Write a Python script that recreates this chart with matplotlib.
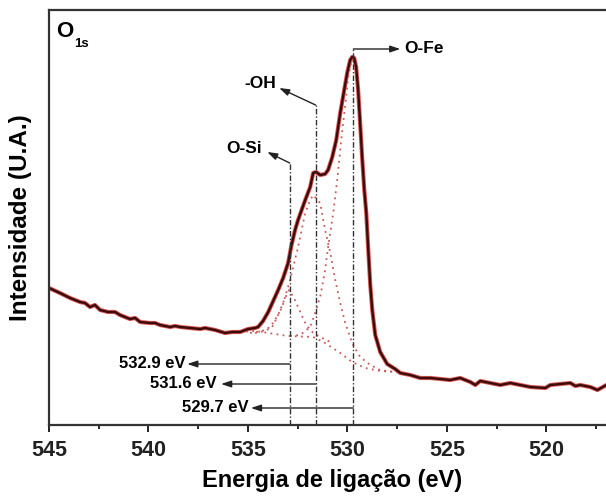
import matplotlib
matplotlib.use("Agg")
import matplotlib.pyplot as plt
from matplotlib.ticker import MultipleLocator

plt.rcParams['font.family'] = ['Liberation Sans', 'DejaVu Sans']
plt.rcParams['font.weight'] = 'bold'

# ---- data ----
energy = [545.00, 544.45, 543.94, 543.44, 543.19, 542.94, 542.69, 542.43, 542.03, 541.68,
          541.43, 540.93, 540.67, 540.42, 539.92, 539.67, 539.42, 538.91, 538.66, 538.41,
          537.91, 537.40, 537.15, 536.65, 536.15, 535.79, 535.39, 534.99, 534.64, 534.49,
          534.24, 533.98, 533.73, 533.48, 533.23, 532.98, 532.83, 532.63, 532.48, 532.12,
          531.87, 531.72, 531.57, 531.37, 531.12, 530.97, 530.76, 530.56, 530.36, 530.16,
          530.01, 529.86, 529.76, 529.66, 529.56, 529.46, 529.36, 529.26, 529.15, 529.05,
          528.95, 528.85, 528.75, 528.60, 528.35, 528.00, 527.60, 527.34, 526.84, 526.34,
          525.83, 525.33, 524.83, 524.33, 523.82, 523.57, 523.32, 522.82, 522.31, 521.81,
          521.31, 520.80, 520.05, 519.80, 519.30, 518.79, 518.54, 518.29, 517.79, 517.43,
          516.98]
intensity = [137, 132, 127, 123, 122, 118, 120, 115, 113, 113,
             110, 106, 107, 103, 102, 102, 100, 98, 99, 98,
             97, 96, 97, 95, 92, 93, 93, 96, 97, 98,
             104, 113, 124, 135, 147, 162, 178, 195, 205, 225,
             238, 252, 253, 250, 251, 255, 268, 285, 312, 335,
             352, 365, 368, 367, 358, 335, 302, 268, 235, 212,
             175, 140, 115, 90, 73, 61, 56, 52, 50, 47,
             47, 46, 45, 47, 43, 40, 44, 42, 40, 42,
             40, 38, 37, 40, 41, 42, 39, 40, 38, 35,
             40]

bg_energy = [535.40, 534.64, 533.00, 531.72, 531.12, 530.36, 529.76, 529.10, 528.35, 527.60, 527.20]
bg_int = [93, 94, 89, 88, 82, 72, 63, 57, 54, 53, 52]

osi_energy = [534.89, 534.29, 533.88, 533.48, 533.18, 532.93, 532.68, 532.37, 532.07, 531.72, 531.37, 530.86]
osi_int = [92, 94, 98, 110, 125, 135, 127, 113, 100, 92, 88, 83]

oh_energy = [534.64, 534.14, 533.78, 533.28, 532.88, 532.48, 532.12, 531.87, 531.72, 531.37,
             531.12, 530.86, 530.61, 530.36, 530.11, 529.76, 529.36, 528.85, 528.35, 527.60]
oh_int = [92, 94, 98, 118, 145, 178, 212, 225, 230, 222,
          195, 172, 145, 122, 102, 82, 68, 60, 55, 53]

ofe_energy = [532.88, 532.37, 531.87, 531.62, 531.37, 531.12, 530.97, 530.71, 530.51, 530.31,
              530.11, 529.96, 529.81, 529.71, 529.56, 529.46, 529.36, 529.26, 529.15, 529.05,
              528.95, 528.85, 528.75, 528.60, 528.35, 528.00, 527.60, 527.20]
ofe_int = [89, 90, 98, 112, 128, 155, 178, 212, 245, 285,
           320, 347, 363, 365, 357, 335, 302, 268, 235, 212,
           175, 140, 115, 90, 73, 61, 55, 52]

peak_pos = [532.9, 531.6, 529.7]
peak_names = ["O-Si", "-OH", "O-Fe"]
peak_labels = ["532.9 eV", "531.6 eV", "529.7 eV"]

# ---- figure ----
fig = plt.figure(figsize=(6.06, 4.99), dpi=100)
ax = fig.add_axes([49/606, 74/499, 557/606, 415/499])

dot_col = '#c85a5a'
for ex, iy in [(bg_energy, bg_int), (osi_energy, osi_int), (oh_energy, oh_int), (ofe_energy, ofe_int)]:
    ax.plot(ex, iy, linestyle=(0, (1, 2.4)), color=dot_col, lw=1.3)

ax.plot(energy, intensity, color='#d9534f', lw=3.0, solid_joinstyle='round')
ax.plot(energy, intensity, color='#3a0c0c', lw=1.7, solid_joinstyle='round')

ax.set_xlim(545, 517)
ax.set_ylim(0, 415)

# vertical dash-dot markers
tops = [262, 320, 376]
for e, t in zip(peak_pos, tops):
    ax.plot([e, e], [0, t], color='#333333', lw=1.0, linestyle=(0, (4, 1.5, 1, 1.5)))

arrow_kw = dict(arrowstyle='-|>,head_length=0.6,head_width=0.2', color='#222222', lw=1.0,
                shrinkA=0, shrinkB=0)

# O-Si
ax.annotate('', xy=(534.03, 273), xytext=(532.9, 262), arrowprops=arrow_kw)
ax.text(534.29, 276, peak_names[0], ha='right', va='center', fontsize=12.5, fontweight='bold')
# -OH
ax.annotate('', xy=(533.43, 337), xytext=(531.6, 320), arrowprops=arrow_kw)
ax.text(533.58, 341, peak_names[1], ha='right', va='center', fontsize=12.5, fontweight='bold')
# O-Fe
ax.annotate('', xy=(527.34, 376), xytext=(529.7, 376), arrowprops=arrow_kw)
ax.text(527.15, 376, peak_names[2], ha='left', va='center', fontsize=12.5, fontweight='bold')

# bottom energy labels
label_y = [61, 41, 17]
arrow_tip = [538.05, 536.35, 534.85]
text_end = [538.12, 536.55, 534.98]
for e, y, tip, te, lab in zip(peak_pos, label_y, arrow_tip, text_end, peak_labels):
    ax.annotate('', xy=(tip, y), xytext=(e, y), arrowprops=arrow_kw)
    ax.text(te, y, lab, ha='right', va='center', fontsize=12, fontweight='bold')

ax.text(0.0135, 0.948, 'O', transform=ax.transAxes, ha='left', va='center',
        fontsize=16, fontweight='bold')
ax.text(0.046, 0.918, '1s', transform=ax.transAxes, ha='left', va='center',
        fontsize=9.5, fontweight='bold')

# axes styling
for s in ['left', 'bottom', 'top']:
    ax.spines[s].set_linewidth(1.6)
    ax.spines[s].set_color('#333333')
ax.spines['right'].set_visible(False)

ax.xaxis.set_major_locator(MultipleLocator(5))
ax.xaxis.set_minor_locator(MultipleLocator(2.5))
ax.tick_params(axis='x', which='major', direction='out', length=5, width=1.4, pad=6,
               labelsize=15.5, colors='#222222')
ax.tick_params(axis='x', which='minor', direction='out', length=3, width=1.2)
ax.tick_params(axis='y', left=False, labelleft=False)
for lbl in ax.get_xticklabels():
    lbl.set_fontweight('bold')

ax.set_xlabel('Energia de ligação (eV)', fontsize=17, fontweight='bold', labelpad=8)
ax.xaxis.set_label_coords(0.508, -0.105)
ax.set_ylabel('Intensidade (U.A.)', fontsize=17.5, fontweight='bold', labelpad=12)

fig.savefig('out.png', dpi=100)
